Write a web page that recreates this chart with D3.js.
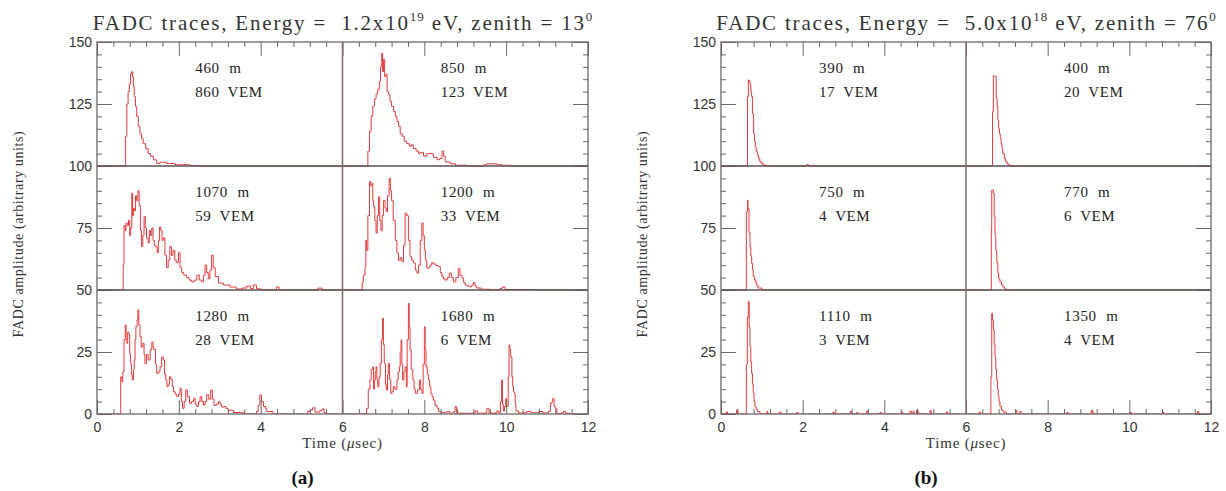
<!DOCTYPE html>
<html>
<head>
<meta charset="utf-8">
<script src="https://cdn.jsdelivr.net/npm/d3@7"></script>
<style>
  html, body { margin: 0; padding: 0; background: #fff; }
  svg text { white-space: pre; }
</style>
</head>
<body>
<script>
// FADC traces, two events, 3x2 grid of stations each.
// Each trace: [time in usec from trace start, amplitude above its baseline]

// ---- event (a): 1.2e19 eV, zenith 13 ----
const A1 = [[0,0],[0.67,0],[0.70,12],[0.73,25],[0.76,30],[0.79,33],[0.82,37],[0.84,38],[0.87,36],[0.89,32],[0.91,28],[0.94,24],[0.97,20],[1.01,16],[1.05,13],[1.09,11],[1.13,9],[1.19,7],[1.25,5],[1.31,4],[1.38,2.5],[1.46,1],[1.54,1.5],[1.62,1.5],[1.70,1],[1.78,1],[1.9,0.5],[2.03,0.5],[2.27,0.2],[2.4,0],[6,0]];
const A2 = [[0,0],[0.59,0],[0.62,6],[0.66,14],[0.70,20],[0.74,24],[0.78,27],[0.82,29],[0.86,31],[0.9,34],[0.93,40],[0.96,45.5],[0.98,38],[1.0,43],[1.03,36],[1.06,37],[1.09,30],[1.12,29],[1.16,26],[1.2,24],[1.25,22],[1.29,20],[1.33,18],[1.37,16],[1.41,13],[1.46,12],[1.51,10],[1.57,9],[1.63,8],[1.68,8.5],[1.73,7],[1.8,6],[1.86,5],[1.9,5.5],[1.98,4],[2.06,5],[2.14,5],[2.22,3.5],[2.31,2.5],[2.37,3],[2.43,6],[2.47,4],[2.51,1.6],[2.63,0.9],[2.76,0.3],[3.04,0],[3.45,0.5],[3.53,0.9],[3.77,0.5],[3.9,0.3],[4.1,0],[6,0]];
const A3 = [[0,0],[0.62,0],[0.64,10],[0.66,26],[0.69,24],[0.71,27],[0.74,26],[0.77,28],[0.8,22],[0.82,25],[0.85,39],[0.87,30],[0.89,33],[0.91,32],[0.94,38],[0.97,36],[1.0,40],[1.03,34],[1.06,24],[1.09,17.5],[1.12,22],[1.15,29.6],[1.18,25],[1.21,21],[1.25,19],[1.28,24],[1.31,22],[1.34,25],[1.37,20],[1.4,18],[1.43,17.5],[1.47,15],[1.5,20],[1.53,25.4],[1.56,24],[1.59,20],[1.62,21],[1.66,14],[1.70,9],[1.74,12],[1.78,17.5],[1.82,14],[1.86,16],[1.9,12],[1.94,11],[1.99,15],[2.03,9],[2.07,7],[2.12,6],[2.19,5],[2.25,4],[2.31,3.3],[2.38,4],[2.44,6],[2.5,4],[2.56,3.3],[2.6,6],[2.64,10],[2.68,7],[2.72,4.5],[2.76,8],[2.8,14],[2.84,9],[2.89,5.4],[2.97,2.8],[3.09,2],[3.25,1.2],[3.4,0.4],[3.55,0.8],[3.66,1.6],[3.75,0.6],[3.82,2],[3.9,0.5],[4.0,0],[4.39,1.2],[4.45,0],[5.4,0.8],[5.5,0],[6,0]];
const A4 = [[0,0],[0.45,0],[0.48,3],[0.51,6],[0.55,9.4],[0.57,20],[0.59,16],[0.62,30],[0.66,43.7],[0.69,42],[0.72,43],[0.74,36],[0.76,33.6],[0.79,28],[0.82,23],[0.85,30],[0.88,37.6],[0.91,28],[0.94,24],[0.97,30],[1.0,36],[1.04,33],[1.07,31.6],[1.1,38],[1.14,45],[1.17,40],[1.2,36],[1.24,28],[1.29,20],[1.33,15],[1.37,12],[1.41,13],[1.45,11.4],[1.49,18],[1.53,31],[1.57,30],[1.61,20],[1.65,13.4],[1.69,12],[1.73,10.9],[1.78,8],[1.82,6.8],[1.86,10],[1.9,20],[1.94,27],[1.97,22],[2.0,16],[2.03,12],[2.06,8.8],[2.1,9],[2.14,10],[2.18,11],[2.22,10.5],[2.28,9.8],[2.35,9.4],[2.39,7],[2.43,5.4],[2.47,4.5],[2.51,4],[2.56,5],[2.61,6.8],[2.66,5],[2.71,3.3],[2.77,5],[2.83,8.7],[2.87,6],[2.92,4.8],[2.96,3],[3.0,2],[3.06,1.5],[3.12,1.3],[3.16,2],[3.2,3],[3.24,1.5],[3.28,0.8],[3.4,0.3],[3.6,0],[3.85,0.6],[3.9,1.2],[3.97,0.2],[4.6,0.2],[4.7,0],[6,0]];
const A5 = [[0,0],[0.56,0],[0.58,15],[0.61,13],[0.63,17],[0.66,30],[0.69,35.9],[0.71,30],[0.73,28.5],[0.75,33],[0.77,32.5],[0.8,24],[0.82,20.4],[0.84,16],[0.86,13.7],[0.89,18],[0.91,21.8],[0.93,30],[0.95,35.2],[0.98,38],[1.0,42],[1.02,36],[1.05,31.2],[1.08,27],[1.12,28.5],[1.15,24],[1.17,20.4],[1.21,24],[1.25,21.8],[1.3,26],[1.34,29],[1.37,27],[1.39,26],[1.43,20],[1.46,16.4],[1.5,17],[1.54,19],[1.58,23],[1.62,21.8],[1.65,16],[1.68,13.7],[1.71,11],[1.74,12],[1.77,15],[1.8,14],[1.84,11],[1.87,9],[1.91,8],[1.95,7],[1.99,8],[2.03,10.4],[2.06,5],[2.09,2.3],[2.13,5],[2.17,9.7],[2.21,7],[2.26,4.3],[2.31,5],[2.36,6.3],[2.4,4],[2.44,3],[2.48,5],[2.52,7],[2.56,5],[2.6,3.6],[2.64,5],[2.68,7.7],[2.73,6],[2.78,9.7],[2.82,6],[2.86,3.5],[2.92,4],[2.97,5],[3.01,4],[3.05,2.8],[3.1,3],[3.15,2.3],[3.2,1.5],[3.25,1.5],[3.33,0.6],[3.5,0.5],[3.6,0],[3.9,1],[3.94,3.6],[3.98,7.7],[4.02,5],[4.07,3],[4.12,2],[4.15,1],[4.3,0],[5.15,1],[5.21,1.6],[5.27,2.5],[5.33,0.8],[5.45,1.5],[5.5,2],[5.55,0.5],[5.6,0],[6,0]];
const A6 = [[0,0],[0.55,0],[0.59,2.3],[0.63,10],[0.67,13.7],[0.7,18],[0.74,19],[0.76,10],[0.78,13.7],[0.8,17],[0.82,19],[0.84,14],[0.86,11],[0.89,15],[0.92,20.4],[0.95,30],[0.98,38.6],[1.0,28],[1.02,20.4],[1.05,12],[1.07,9.7],[1.1,16],[1.12,20.4],[1.15,14],[1.18,8.3],[1.21,9],[1.24,11],[1.28,10],[1.33,13.7],[1.36,17],[1.39,19],[1.41,25],[1.43,29.8],[1.45,20],[1.47,13.7],[1.5,17],[1.53,19],[1.56,11],[1.58,30],[1.61,44.6],[1.63,35],[1.65,25.8],[1.68,18],[1.72,13.7],[1.75,10],[1.78,8.3],[1.83,9.7],[1.88,13.7],[1.91,10],[1.94,8.3],[1.97,20],[2.0,35.2],[2.02,26],[2.04,19],[2.07,16],[2.1,13.7],[2.13,11],[2.16,8.3],[2.19,7],[2.22,5.6],[2.26,3.5],[2.31,2.3],[2.35,1],[2.39,0.5],[2.5,0.5],[2.55,1],[2.62,0.4],[2.72,1],[2.75,3],[2.79,0.3],[3.2,0.4],[3.24,1.2],[3.3,0.3],[3.37,0.3],[3.5,0.5],[3.53,2.3],[3.58,0.5],[3.65,0.3],[3.74,0.5],[3.77,1.2],[3.82,0.5],[3.86,5],[3.89,13.7],[3.91,4],[3.93,1.2],[3.96,3],[3.99,6.3],[4.01,3],[4.03,3],[4.05,15],[4.07,27.8],[4.09,26],[4.11,23],[4.14,15],[4.16,11],[4.18,9],[4.2,8.3],[4.22,4],[4.24,1.2],[4.3,0.4],[4.45,0.5],[4.5,1],[4.6,0.5],[4.75,0.5],[4.8,1],[4.9,0.4],[5.03,1],[5.08,4.3],[5.12,5],[5.14,6.3],[5.17,3],[5.2,2.3],[5.24,0.2],[5.35,0.5],[5.4,1],[5.45,0.3],[5.56,0],[6,0]];

// ---- event (b): 5.0e18 eV, zenith 76 ----
const B1 = [[0,0],[0.64,0],[0.65,28],[0.67,34.7],[0.69,34],[0.71,33],[0.73,30],[0.75,28],[0.77,21],[0.8,13],[0.82,10],[0.84,7.8],[0.86,6],[0.89,4.4],[0.92,3],[0.95,1.7],[1.0,0.8],[1.05,0.3],[1.1,0],[2.08,0],[2.1,0.6],[2.14,0],[6,0]];
const B2 = [[0,0],[0.64,0],[0.65,22],[0.67,36.3],[0.73,36],[0.74,27.3],[0.76,24],[0.78,18.5],[0.8,15],[0.82,13],[0.84,11],[0.86,9],[0.88,7],[0.9,5],[0.94,3],[0.97,1.7],[1.01,0.8],[1.05,0.3],[1.1,0],[6,0]];
const B3 = [[0,0],[0.61,0],[0.62,31.6],[0.65,36.3],[0.66,33],[0.686,23],[0.71,17.5],[0.73,14],[0.75,10.8],[0.77,8],[0.79,5.4],[0.82,4],[0.85,2.8],[0.88,1.5],[0.91,0.8],[1.0,0],[6,0]];
const B4 = [[0,0],[0.6,0],[0.62,25],[0.63,40.3],[0.67,39],[0.69,29.6],[0.71,22],[0.73,16],[0.755,11],[0.78,6.8],[0.8,4.5],[0.83,3.3],[0.87,2],[0.9,1.2],[0.95,0.5],[0.98,0],[6,0]];
const B5 = [[0,0],[0.1,0],[0.13,0.8],[0.16,0],[0.36,0],[0.38,1.6],[0.41,0],[0.61,0],[0.62,20],[0.645,39.2],[0.67,45.3],[0.69,35],[0.71,27],[0.73,21],[0.75,16.4],[0.77,12],[0.79,8.3],[0.81,5],[0.83,3],[0.86,2],[0.89,1],[0.955,0],[1.1,0],[1.12,1],[1.15,0],[1.42,0],[1.44,0.8],[1.47,0],[1.83,0],[1.85,0.6],[1.88,0],[2.72,0],[2.74,0.8],[2.77,0],[3.14,0],[3.16,1],[3.19,0],[3.3,0],[3.32,0.6],[3.35,0],[3.55,0],[3.57,1.2],[3.6,0],[3.87,0],[3.89,0.6],[3.92,0],[4.4,0],[4.42,0.8],[4.45,0],[4.61,0],[4.63,1.2],[4.66,0.4],[4.7,1],[4.73,0],[4.77,0],[4.79,1.6],[4.82,0.5],[4.85,0],[5.1,0],[5.12,1.4],[5.15,0],[5.5,0],[5.52,0.8],[5.55,0],[6,0]];
const B6 = [[0,0],[0.3,0],[0.32,0.8],[0.35,0],[0.6,0],[0.61,15],[0.63,40.6],[0.65,38],[0.67,33.9],[0.69,28],[0.71,23.1],[0.73,18],[0.75,13.7],[0.77,10],[0.79,7],[0.81,5],[0.83,3],[0.87,1.6],[0.91,0.8],[0.99,0],[1.2,0],[1.22,1.4],[1.25,0],[1.3,0],[1.32,1],[1.35,0],[2.45,0],[2.47,0.6],[2.5,0],[3.05,0],[3.07,1.6],[3.1,0.5],[3.13,0],[4.0,0],[4.02,0.6],[4.05,0],[4.8,0],[4.82,0.6],[4.85,0],[5.65,0],[5.67,1],[5.7,0],[6,0]];

// station labels, row-major (row 0 = top; col 0 = left half)
const DIST_A = ['460 m', '850 m', '1070 m', '1200 m', '1280 m', '1680 m'];
const VEM_A  = ['860 VEM', '123 VEM', '59 VEM', '33 VEM', '28 VEM', '6 VEM'];
const DIST_B = ['390 m', '400 m', '750 m', '770 m', '1110 m', '1350 m'];
const VEM_B  = ['17 VEM', '20 VEM', '4 VEM', '6 VEM', '3 VEM', '4 VEM'];

const ROW_BASE = [100, 50, 0];
const X_TICKS = [0, 2, 4, 6, 8, 10, 12];
const Y_TICKS = [0, 25, 50, 75, 100, 125, 150];

const W = 1226, H = 491;
const TOP = 42, BOTTOM = 414;
const RED = '#e33b3b', FRAME = '#6e6464';

const svg = d3.select('body').append('svg').attr('width', W).attr('height', H);

function drawPanel(cfg) {
  const x = d3.scaleLinear().domain([0, 12]).range([cfg.left, cfg.right]);
  const y = d3.scaleLinear().domain([0, 150]).range([BOTTOM, TOP]);
  const g = svg.append('g');

  const clipId = 'clip-' + cfg.tag;
  g.append('clipPath').attr('id', clipId)
    .append('rect').attr('x', x(0)).attr('y', y(150))
    .attr('width', x(12) - x(0)).attr('height', y(0) - y(150));

  // traces
  const tg = g.append('g').attr('clip-path', `url(#${clipId})`);
  cfg.traces.forEach((pts, i) => {
    const base = ROW_BASE[Math.floor(i / 2)], t0 = (i % 2) * 6;
    const line = d3.line()
      .x(d => x(d[0] + t0))
      .y(d => y(d[1] + base))
      .curve(d3.curveStepAfter);
    tg.append('path').datum(pts)
      .attr('d', line)
      .attr('fill', 'none')
      .attr('stroke', RED)
      .attr('stroke-width', 1);
  });

  // minor / major ticks on all four sides
  const minorX = d3.range(31).filter(i => i % 5).map(i => i * 0.4);
  const minorY = d3.range(31).filter(i => i % 5).map(i => i * 5);
  const tickStyle = sel => {
    sel.select('.domain').remove();
    sel.selectAll('.tick line').attr('stroke', FRAME).attr('stroke-width', 1);
    sel.selectAll('.tick text').attr('fill', '#333')
      .attr('font-family', 'Liberation Sans, Arial, sans-serif').attr('font-size', 14);
  };
  g.append('g').attr('transform', `translate(0,${BOTTOM})`)
    .call(d3.axisBottom(x).tickValues(X_TICKS).tickSize(-14).tickPadding(8).tickFormat(d3.format('d')))
    .call(tickStyle);
  g.append('g').attr('transform', `translate(0,${BOTTOM})`)
    .call(d3.axisBottom(x).tickValues(minorX).tickSize(-5).tickFormat(''))
    .call(tickStyle);
  g.append('g').attr('transform', `translate(0,${TOP})`)
    .call(d3.axisTop(x).tickValues(X_TICKS).tickSize(-14).tickFormat(''))
    .call(tickStyle);
  g.append('g').attr('transform', `translate(0,${TOP})`)
    .call(d3.axisTop(x).tickValues(minorX).tickSize(-5).tickFormat(''))
    .call(tickStyle);
  g.append('g').attr('transform', `translate(${cfg.left},0)`)
    .call(d3.axisLeft(y).tickValues(Y_TICKS).tickSize(-15).tickPadding(5))
    .call(tickStyle);
  g.append('g').attr('transform', `translate(${cfg.left},0)`)
    .call(d3.axisLeft(y).tickValues(minorY).tickSize(-5).tickFormat(''))
    .call(tickStyle);
  g.append('g').attr('transform', `translate(${cfg.right},0)`)
    .call(d3.axisRight(y).tickValues(Y_TICKS).tickSize(-15).tickFormat(''))
    .call(tickStyle);
  g.append('g').attr('transform', `translate(${cfg.right},0)`)
    .call(d3.axisRight(y).tickValues(minorY).tickSize(-5).tickFormat(''))
    .call(tickStyle);

  // row dividers (also the baselines of upper rows) and the column divider
  g.selectAll('.hdiv').data([50, 100]).join('line')
    .attr('x1', x(0)).attr('x2', x(12))
    .attr('y1', d => y(d)).attr('y2', d => y(d))
    .attr('stroke', '#5a5050').attr('stroke-width', 1.3);
  g.append('line')
    .attr('x1', x(6)).attr('x2', x(6)).attr('y1', y(0)).attr('y2', y(150))
    .attr('stroke', '#7a6a6a').attr('stroke-width', 1.5);
  g.append('rect')
    .attr('x', x(0)).attr('y', y(150))
    .attr('width', x(12) - x(0)).attr('height', y(0) - y(150))
    .attr('fill', 'none').attr('stroke', FRAME).attr('stroke-width', 1.3);

  // station annotations
  const serif = 'Liberation Serif, Times New Roman, serif';
  cfg.dist.forEach((d, i) => {
    const base = ROW_BASE[Math.floor(i / 2)], t0 = (i % 2) * 6;
    const tx = x(t0 + 2.4);
    g.append('text').attr('x', tx).attr('y', y(base + 37.5))
      .attr('font-family', serif).attr('font-size', 15).attr('fill', '#222')
      .attr('letter-spacing', 0.7).attr('word-spacing', 5).text(d);
    g.append('text').attr('x', tx).attr('y', y(base + 27.8))
      .attr('font-family', serif).attr('font-size', 15).attr('fill', '#222')
      .attr('letter-spacing', 0.6).attr('word-spacing', 4).text(cfg.vem[i]);
  });

  // title
  const cx = (cfg.left + cfg.right) / 2;
  const title = g.append('text').attr('x', cx).attr('y', 30)
    .attr('text-anchor', 'middle').attr('font-family', serif)
    .attr('font-size', 21).attr('fill', '#333').attr('letter-spacing', 1.8);
  title.append('tspan').text(`FADC traces, Energy =  ${cfg.energy}x10`);
  title.append('tspan').attr('dy', -9).attr('font-size', 13).attr('letter-spacing', 1).text(cfg.exp);
  title.append('tspan').attr('dy', 9).text(` eV, zenith = ${cfg.zenith}`);
  title.append('tspan').attr('dy', -9).attr('font-size', 13).attr('letter-spacing', 0).text('0');

  // axis titles
  const xl = g.append('text').attr('x', cx).attr('y', 448)
    .attr('text-anchor', 'middle').attr('font-family', serif)
    .attr('font-size', 15).attr('fill', '#333').attr('letter-spacing', 0.8);
  xl.append('tspan').text('Time (');
  xl.append('tspan').attr('font-style', 'italic').text('μ');
  xl.append('tspan').text('sec)');

  g.append('text')
    .attr('transform', `translate(${cfg.left - 79},${(TOP + BOTTOM) / 2 + 6}) rotate(-90)`)
    .attr('text-anchor', 'middle').attr('dy', '0.35em')
    .attr('font-family', serif).attr('font-size', 14).attr('fill', '#333')
    .attr('letter-spacing', 0.6)
    .text('FADC amplitude (arbitrary units)');

  g.append('text').attr('x', cx - 40).attr('y', 484)
    .attr('text-anchor', 'middle').attr('font-family', serif)
    .attr('font-size', 19).attr('font-weight', 'bold').attr('fill', '#111')
    .text(`(${cfg.tag})`);
}

drawPanel({ tag: 'a', left: 97, right: 588, energy: '1.2', exp: '19', zenith: '13',
  traces: [A1, A2, A3, A4, A5, A6], dist: DIST_A, vem: VEM_A });
drawPanel({ tag: 'b', left: 721, right: 1211, energy: '5.0', exp: '18', zenith: '76',
  traces: [B1, B2, B3, B4, B5, B6], dist: DIST_B, vem: VEM_B });
</script>
</body>
</html>
